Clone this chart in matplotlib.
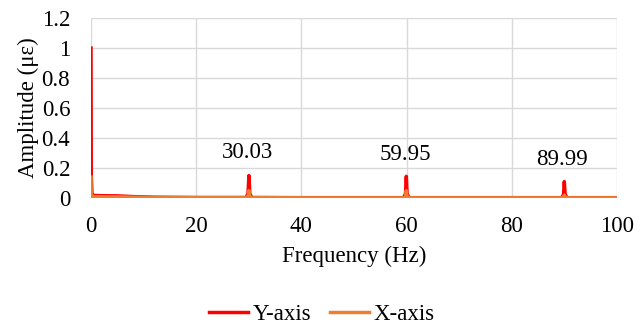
import matplotlib
matplotlib.use("Agg")
import matplotlib.pyplot as plt

# spectrum (sparse points)
freq_y = [0, 0.05, 0.2, 0.5, 2, 5, 8, 12, 20, 29.5, 29.85, 30.03, 30.2, 30.55, 40, 50,
          59.45, 59.8, 59.95, 60.1, 60.45, 70, 80, 89.5, 89.85, 89.99, 90.15, 90.5, 100]
amp_y = [1.0, 0.15, 0.02, 0.018, 0.016, 0.015, 0.01, 0.006, 0.004, 0.004, 0.03, 0.15, 0.03, 0.004, 0.003, 0.003,
         0.003, 0.03, 0.145, 0.03, 0.003, 0.003, 0.003, 0.003, 0.025, 0.11, 0.025, 0.003, 0.003]

freq_x = [0, 0.05, 0.2, 0.5, 2, 5, 8, 12, 20, 29.6, 29.9, 30.03, 30.15, 30.45, 40, 50,
          59.55, 59.85, 59.95, 60.05, 60.35, 70, 80, 89.6, 89.9, 89.99, 90.1, 90.4, 100]
amp_x = [0.14, 0.03, 0.012, 0.01, 0.009, 0.008, 0.006, 0.004, 0.003, 0.003, 0.015, 0.05, 0.015, 0.003, 0.002, 0.002,
         0.002, 0.015, 0.05, 0.015, 0.002, 0.002, 0.002, 0.002, 0.008, 0.02, 0.008, 0.002, 0.002]

peak_labels = ["30.03", "59.95", "89.99"]
label_pos = [(29.75, 0.267), (59.7, 0.253), (89.5, 0.222)]

plt.rcParams['font.family'] = ['Liberation Serif', 'DejaVu Serif']
fs = 16.5

fig = plt.figure(figsize=(6.44, 3.28), dpi=100)
ax = fig.add_axes([0.1413, 0.396, 0.8167, 0.549])

ax.plot(freq_y, amp_y, color='#FF0000', lw=2.5, label='Y-axis', zorder=3)
ax.plot(freq_x, amp_x, color='#ED7D31', lw=2.5, label='X-axis', zorder=4)

for txt, (px, py) in zip(peak_labels, label_pos):
    ax.text(px, py, txt, ha='center', va='baseline', fontsize=fs)

ax.set_xlim(0, 100)
ax.set_ylim(0, 1.2)
ax.set_xticks([0, 20, 40, 60, 80, 100])
ax.set_yticks([0, 0.2, 0.4, 0.6, 0.8, 1.0, 1.2])
ax.set_yticklabels(['0', '0.2', '0.4', '0.6', '0.8', '1', '1.2'])
ax.tick_params(axis='x', length=0, labelsize=fs, pad=13)
ax.tick_params(axis='y', length=0, labelsize=fs, pad=15)
ax.grid(True, color='#D9D9D9', lw=1)
ax.set_axisbelow(True)
for s in ax.spines.values():
    s.set_visible(False)

ax.set_xlabel('Frequency (Hz)', fontsize=fs, labelpad=6)
ax.set_ylabel('Amplitude (με)', fontsize=fs, labelpad=2)

fig.legend(loc='center', bbox_to_anchor=(0.5, 0.04), ncol=2, frameon=False,
           fontsize=fs, handlelength=1.7, columnspacing=0.8, handletextpad=0.2)

fig.savefig('out.png', dpi=100)
